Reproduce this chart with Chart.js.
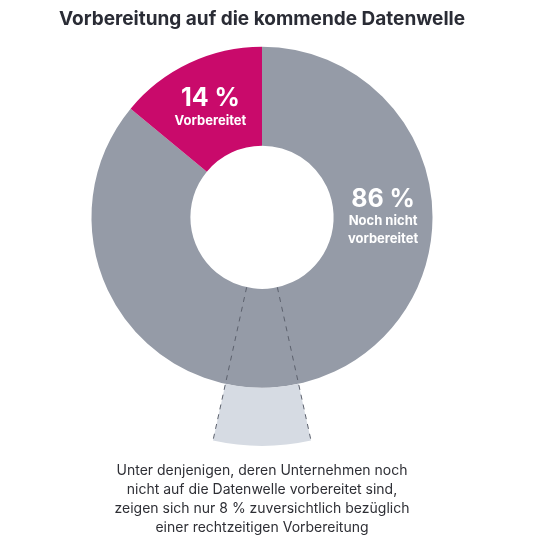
<!DOCTYPE html>
<html>
<head>
<meta charset="utf-8">
<script src="https://cdn.jsdelivr.net/npm/chart.js@4"></script>
<style>
    html, body { margin: 0; padding: 0; background: #ffffff; }
    #wrap { width: 540px; height: 540px; }
</style>
</head>
<body>
<div id="wrap"><canvas id="prepChart"></canvas></div>
<script>
// Data
const categories = ['Noch nicht vorbereitet', 'Vorbereitet'];
const shares = [86, 14];
const shareLabels = ['86 %', '14 %'];
const subLabels = [['Noch nicht', 'vorbereitet'], ['Vorbereitet']];
const sliceColors = ['#959ba7', '#c90a6b'];
// share of the not-prepared group that is confident (drawn as the wedge below)
const confidentShare = 8;

const titleText = 'Vorbereitung auf die kommende Datenwelle';
const noteLines = [
    'Unter denjenigen, deren Unternehmen noch',
    'nicht auf die Datenwelle vorbereitet sind,',
    'zeigen sich nur 8 % zuversichtlich bezüglich',
    'einer rechtzeitigen Vorbereitung',
];

// Wedge that pulls out the confident part of the grey slice
const detailWedge = {
    id: 'detailWedge',
    afterDatasetsDraw(chart, args, opts) {
        const arc = chart.getDatasetMeta(0).data[opts.slice];
        if (!arc) return;
        const { x, y, startAngle, endAngle, innerRadius, outerRadius } =
            arc.getProps(['x', 'y', 'startAngle', 'endAngle', 'innerRadius', 'outerRadius'], true);
        const span = (endAngle - startAngle) * opts.share / 100;
        const a0 = opts.centerAngle - span / 2;
        const a1 = opts.centerAngle + span / 2;
        const rOut = outerRadius * opts.reach;
        const ctx = chart.ctx;
        ctx.save();
        ctx.fillStyle = opts.fill;
        ctx.beginPath();
        ctx.arc(x, y, rOut, a0, a1);
        ctx.arc(x, y, outerRadius, a1, a0, true);
        ctx.closePath();
        ctx.fill();
        ctx.strokeStyle = opts.line;
        ctx.lineWidth = 1;
        ctx.setLineDash([5, 5]);
        [a0, a1].forEach(a => {
            ctx.beginPath();
            ctx.moveTo(x + Math.cos(a) * innerRadius, y + Math.sin(a) * innerRadius);
            ctx.lineTo(x + Math.cos(a) * rOut, y + Math.sin(a) * rOut);
            ctx.stroke();
        });
        ctx.restore();
    },
};

// White labels inside the slices
const sliceLabels = {
    id: 'sliceLabels',
    afterDatasetsDraw(chart, args, opts) {
        const ctx = chart.ctx;
        chart.getDatasetMeta(0).data.forEach((arc, i) => {
            const p = arc.getProps(['x', 'y', 'startAngle', 'endAngle', 'innerRadius', 'outerRadius'], true);
            const angle = opts.angles[i] !== null ? opts.angles[i] : (p.startAngle + p.endAngle) / 2;
            const r = (p.innerRadius + p.outerRadius) / 2;
            const cx = p.x + Math.cos(angle) * r;
            const cy = p.y + Math.sin(angle) * r;
            const lines = subLabels[i];
            const blockH = 24 + lines.length * 18;
            let ty = cy - blockH / 2 + 12;
            ctx.save();
            ctx.fillStyle = '#ffffff';
            ctx.textAlign = 'center';
            ctx.textBaseline = 'middle';
            ctx.font = 'bold 25px Inter';
            ctx.fillText(shareLabels[i], cx, ty);
            ty += 22;
            ctx.font = 'bold 13px Inter';
            lines.forEach(l => {
                ctx.fillText(l, cx, ty);
                ty += 17.5;
            });
            ctx.restore();
        });
    },
};

const ctx = document.getElementById('prepChart').getContext('2d');
const prepChart = new Chart(ctx, {
    type: 'doughnut',
    data: {
        labels: categories,
        datasets: [
            {
                data: shares,
                backgroundColor: sliceColors,
                borderWidth: 0,
            },
        ],
    },
    options: {
        responsive: true,
        maintainAspectRatio: false,
        animation: false,
        cutout: '42%',
        layout: {
            padding: { left: 0, right: 16, top: 0, bottom: 0 },
        },
        plugins: {
            legend: { display: false },
            tooltip: { enabled: false },
            title: {
                display: true,
                text: titleText,
                color: '#2a2c35',
                font: { family: 'Inter', size: 19, weight: 'bold', lineHeight: 1.2 },
                padding: { top: 8, bottom: 16 },
            },
            subtitle: {
                display: true,
                position: 'bottom',
                text: noteLines,
                color: '#2e2f35',
                font: { family: 'Inter', size: 14, weight: 'normal', lineHeight: 1.36 },
                padding: { top: 73, bottom: 3 },
            },
            detailWedge: {
                slice: 0,
                share: confidentShare,
                centerAngle: Math.PI / 2,
                reach: 1.34,
                fill: '#d6dbe3',
                line: '#5c616d',
            },
            sliceLabels: {
                angles: [0, null],
            },
        },
    },
    plugins: [detailWedge, sliceLabels],
});
</script>
</body>
</html>
